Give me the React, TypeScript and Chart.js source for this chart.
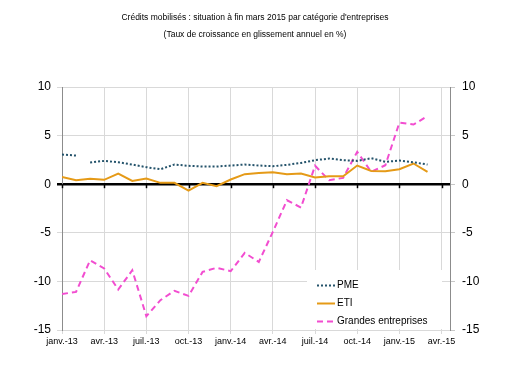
import React, { useEffect, useRef } from 'react';
import { Chart, registerables } from 'chart.js';

Chart.register(...registerables);

const FONT = "'Liberation Sans', Arial, Helvetica, sans-serif";

const TITLE = [
  "Crédits mobilisés : situation à fin mars 2015 par catégorie d'entreprises",
  '(Taux de croissance en glissement annuel en %)',
];

// Monthly points: janv.-13 ... mars-15
const MONTHS = [
  'janv.-13', 'févr.-13', 'mars-13', 'avr.-13', 'mai-13', 'juin-13', 'juil.-13', 'août-13', 'sept.-13',
  'oct.-13', 'nov.-13', 'déc.-13', 'janv.-14', 'févr.-14', 'mars-14', 'avr.-14', 'mai-14', 'juin-14',
  'juil.-14', 'août-14', 'sept.-14', 'oct.-14', 'nov.-14', 'déc.-14', 'janv.-15', 'févr.-15', 'mars-15',
];

const X_TICK_LABELS = [
  'janv.-13', 'avr.-13', 'juil.-13', 'oct.-13', 'janv.-14', 'avr.-14', 'juil.-14', 'oct.-14', 'janv.-15', 'avr.-15',
];

const Y_MIN = -15;
const Y_MAX = 10;
const Y_STEP = 5;

const PME = [
  3.05, 2.95, 2.23, 2.4, 2.26, 2.02, 1.75, 1.54, 2.02, 1.89, 1.82, 1.82, 1.92, 2.02, 1.92,
  1.85, 1.99, 2.19, 2.47, 2.64, 2.47, 2.4, 2.67, 2.3, 2.43, 2.26, 2.02,
];

const ETI = [
  0.75, 0.41, 0.55, 0.45, 1.1, 0.34, 0.58, 0.14, 0.14, -0.65, 0.14, -0.2, 0.48, 1.03, 1.15,
  1.23, 1.03, 1.1, 0.69, 0.82, 0.82, 1.92, 1.37, 1.34, 1.54, 2.13, 1.27,
];

const GRANDES = [
  -11.3, -11.08, -7.82, -8.67, -10.84, -8.85, -13.58, -11.93, -10.97, -11.49, -9.02, -8.6, -8.95, -7.07, -8.0,
  -4.9, -1.65, -2.4, 1.9, 0.41, 0.65, 3.33, 1.27, 1.95, 6.33, 6.14, 7.0,
];

// PME line is broken between its 2nd and 3rd points
const PME_GAP_AFTER = 1;

const SERIES_NAMES = ['PME', 'ETI', 'Grandes entreprises'];
const COLORS = ['#24536b', '#e59a17', '#f24dd0'];

const toPoints = (vals: number[]) => vals.map((y, i) => ({ x: i, y }));

const zeroTickPlugin = {
  id: 'zeroTicks',
  beforeDatasetsDraw(chart: any) {
    const { ctx } = chart;
    const xs = chart.scales.x;
    const ys = chart.scales.y;
    const y0 = ys.getPixelForValue(0);
    ctx.save();
    ctx.strokeStyle = '#000';
    ctx.lineWidth = 1.5;
    xs.ticks.forEach((t: any) => {
      const px = Math.round(xs.getPixelForValue(t.value)) + 0.5;
      ctx.beginPath();
      ctx.moveTo(px, y0);
      ctx.lineTo(px, y0 + 4);
      ctx.stroke();
    });
    ctx.restore();
  },
};

const legendBoxPlugin = {
  id: 'legendBox',
  afterDraw(chart: any) {
    const { ctx, chartArea } = chart;
    const boxLeft = chartArea.right - 143;
    const boxTop = chartArea.bottom - 60;
    ctx.save();
    ctx.fillStyle = '#ffffff';
    ctx.fillRect(boxLeft, boxTop, 135, 59);
    ctx.font = `10px ${FONT}`;
    ctx.textBaseline = 'middle';
    ctx.textAlign = 'left';
    chart.data.datasets.forEach((ds: any, i: number) => {
      const y = Math.round(boxTop + 15 + i * 18) + 0.5;
      const x1 = boxLeft + 10;
      ctx.strokeStyle = ds.borderColor;
      ctx.lineWidth = 2;
      ctx.setLineDash(ds.borderDash || []);
      ctx.beginPath();
      ctx.moveTo(x1, y);
      ctx.lineTo(x1 + 18, y);
      ctx.stroke();
      ctx.setLineDash([]);
      ctx.fillStyle = '#000';
      ctx.fillText(ds.label, x1 + 20, y);
    });
    ctx.restore();
  },
};

export default function App() {
  const canvasRef = useRef<HTMLCanvasElement | null>(null);

  useEffect(() => {
    if (!canvasRef.current) return;
    const gridColor = (c: any) => (c.tick && c.tick.value === 0 ? '#000000' : '#d9d9d9');
    const gridWidth = (c: any) => (c.tick && c.tick.value === 0 ? 2.5 : 1);

    const chart = new Chart(canvasRef.current, {
      type: 'line',
      data: {
        labels: MONTHS,
        datasets: [
          {
            label: SERIES_NAMES[0],
            data: toPoints(PME),
            borderColor: COLORS[0],
            borderWidth: 2,
            borderDash: [2, 2],
            pointRadius: 0,
            fill: false,
            tension: 0,
            segment: {
              borderColor: (c: any) => (c.p0DataIndex === PME_GAP_AFTER ? 'rgba(0,0,0,0)' : COLORS[0]),
            },
          },
          {
            label: SERIES_NAMES[1],
            data: toPoints(ETI),
            borderColor: COLORS[1],
            borderWidth: 2,
            pointRadius: 0,
            fill: false,
            tension: 0,
          },
          {
            label: SERIES_NAMES[2],
            data: toPoints(GRANDES),
            borderColor: COLORS[2],
            borderWidth: 2,
            borderDash: [6, 4],
            pointRadius: 0,
            fill: false,
            tension: 0,
          },
        ],
      },
      options: {
        animation: false,
        responsive: false,
        layout: { padding: 0 },
        plugins: {
          legend: { display: false },
          tooltip: { enabled: false },
          title: {
            display: true,
            text: TITLE,
            color: '#000',
            font: { family: FONT, size: 8.5, weight: 'normal', lineHeight: 2 },
            padding: { top: 9, bottom: 44 },
          },
        },
        scales: {
          x: {
            type: 'linear',
            min: 0,
            max: 27.6,
            afterBuildTicks: (s: any) => {
              s.ticks = X_TICK_LABELS.map((_, i) => ({ value: i * 3 }));
            },
            ticks: {
              autoSkip: false,
              maxRotation: 0,
              padding: 2,
              color: '#000',
              font: { family: FONT, size: 9 },
              callback: (_v: any, i: number) => X_TICK_LABELS[i],
            },
            grid: { color: '#d9d9d9', tickLength: 4 },
            border: { color: '#d9d9d9' },
            afterFit: (s: any) => {
              s.height = 42;
            },
          },
          y: {
            position: 'left',
            min: Y_MIN,
            max: Y_MAX,
            ticks: {
              stepSize: Y_STEP,
              padding: 6,
              color: '#000',
              font: { family: FONT, size: 12 },
            },
            grid: { color: gridColor, lineWidth: gridWidth, tickLength: 5 },
            border: { color: '#8c8c8c' },
            afterFit: (s: any) => {
              s.width = 62;
            },
          },
          y2: {
            position: 'right',
            min: Y_MIN,
            max: Y_MAX,
            ticks: {
              stepSize: Y_STEP,
              padding: 7,
              color: '#000',
              font: { family: FONT, size: 12 },
            },
            grid: { drawOnChartArea: false, color: '#c8c8c8', tickLength: 5 },
            border: { color: '#8c8c8c' },
            afterFit: (s: any) => {
              s.width = 60;
            },
          },
        },
      },
      plugins: [zeroTickPlugin, legendBoxPlugin],
    });

    return () => chart.destroy();
  }, []);

  return (
    <div style={{ position: 'fixed', left: 0, top: 0, width: 510, height: 372, background: '#fff' }}>
      <canvas ref={canvasRef} width={510} height={372} style={{ display: 'block' }} />
    </div>
  );
}
